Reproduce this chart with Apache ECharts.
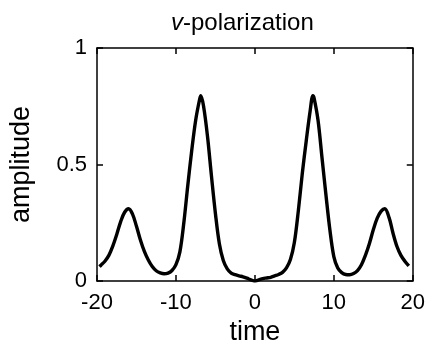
<!DOCTYPE html>
<html>
<head>
<meta charset="utf-8">
<script src="https://cdn.jsdelivr.net/npm/echarts@6/dist/echarts.min.js"></script>
<style>
html,body{margin:0;padding:0;background:#fff;}
#chart{width:428px;height:352px;}
</style>
</head>
<body>
<div id="chart"></div>
<script>
var times = [-19.7,-19.5,-19,-18.5,-18,-17.5,-17,-16.5,-16,-15.5,-15,-14.5,-14,-13.5,-13,-12.5,-12,-11.5,-11,-10.5,
  -10,-9.5,-9,-8.5,-8,-7.5,-7,-6.85,-6.5,-6,-5.5,-5,-4.5,-4,-3.5,-3,-2.5,-2,-1.5,-1,-0.5,0,
  0.5,1,1.5,2,2.5,3,3.5,4,4.5,5,5.5,6,6.5,7,7.35,7.5,8,8.5,9,9.5,10,10.5,11,11.5,12,12.5,13,13.5,14,14.5,15,15.5,16,16.45,17,17.5,18,18.5,19,19.5];
var amplitude = [0.062,0.068,0.085,0.11,0.15,0.2,0.255,0.295,0.31,0.287,0.235,0.176,0.127,0.09,0.062,0.044,0.035,0.031,0.034,0.045,
  0.07,0.125,0.25,0.41,0.56,0.69,0.78,0.795,0.75,0.62,0.45,0.29,0.16,0.088,0.052,0.034,0.027,0.022,0.018,0.012,0.005,0,
  0.005,0.01,0.013,0.016,0.022,0.028,0.037,0.056,0.092,0.165,0.3,0.46,0.6,0.73,0.795,0.785,0.69,0.53,0.37,0.22,0.105,0.056,0.036,0.028,0.027,0.032,0.045,0.07,0.11,0.16,0.22,0.27,0.3,0.31,0.272,0.205,0.148,0.11,0.085,0.065];
var xTicks = [-20,-10,0,10,20];
var yTicks = [0,0.5,1];
var titleText = 'v-polarization';
var xName = 'time';
var yName = 'amplitude';

var chart = echarts.init(document.getElementById('chart'), null, {renderer:'canvas'});
var font = 'Liberation Sans, Arial, Helvetica, sans-serif';
var data = times.map(function(t,i){return [t, amplitude[i]];});
var axisLine = {show:true, onZero:false, lineStyle:{color:'#000', width:1.5}};
var tick = {show:true, inside:true, length:6, lineStyle:{color:'#000', width:1.5}};
chart.setOption({
  animation:false,
  backgroundColor:'#fff',
  title:{
    text:'{i|' + titleText.charAt(0) + '}' + titleText.slice(1),
    left:166, top:6,
    textStyle:{fontFamily:font, fontSize:24, fontWeight:'normal', color:'#000',
      rich:{i:{fontFamily:font, fontSize:24, fontStyle:'italic', color:'#000'}}}
  },
  grid:{left:97, right:13, top:48, bottom:71},
  xAxis:[{
    type:'value', min:-20, max:20, interval:10, position:'bottom',
    name:xName, nameLocation:'middle', nameGap:34,
    nameTextStyle:{fontFamily:font, fontSize:27, color:'#000'},
    axisLine:axisLine, axisTick:tick, splitLine:{show:false},
    axisLabel:{fontFamily:font, fontSize:22, color:'#000', margin:11,
      formatter:function(v){return xTicks.indexOf(v)>=0 ? String(v) : '';}}
  },{
    type:'value', min:-20, max:20, interval:10, position:'top',
    axisLine:axisLine, axisTick:tick, splitLine:{show:false}, axisLabel:{show:false}
  }],
  yAxis:[{
    type:'value', min:0, max:1, interval:0.5, position:'left',
    name:yName, nameLocation:'middle', nameGap:62, nameRotate:90,
    nameTextStyle:{fontFamily:font, fontSize:27, color:'#000'},
    axisLine:axisLine, axisTick:tick, splitLine:{show:false},
    axisLabel:{fontFamily:font, fontSize:22, color:'#000', margin:10,
      formatter:function(v){return yTicks.indexOf(v)>=0 ? String(v) : '';}}
  },{
    type:'value', min:0, max:1, interval:0.5, position:'right',
    axisLine:axisLine, axisTick:tick, splitLine:{show:false}, axisLabel:{show:false}
  }],
  series:[{
    type:'line', data:data, smooth:0.35, symbol:'none', clip:true,
    lineStyle:{color:'#000', width:3.4}
  }]
});
</script>
</body>
</html>
